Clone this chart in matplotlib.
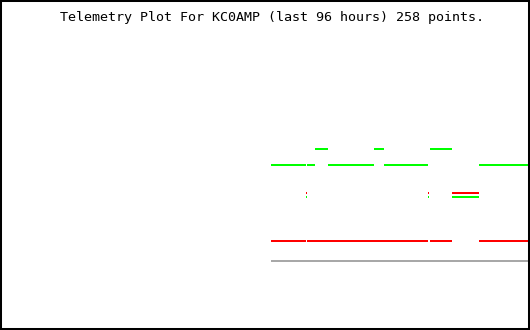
import matplotlib
matplotlib.use("Agg")
import matplotlib.pyplot as plt

# time in hours relative to now, values in arbitrary telemetry units
TITLE = "Telemetry Plot For KC0AMP (last 96 hours) 258 points."

green_t0 = [-46.8, -40.3, -36.5, -26.3, -9.1, -38.8, -28.1, -18.0, -40.5, -18.3, -14.0]
green_t1 = [-40.5, -38.8, -28.1, -18.3, 0.0, -36.5, -26.3, -14.0, -40.3, -18.1, -9.1]
green_v = [165, 165, 165, 165, 165, 181, 181, 181, 133, 133, 133]

red_t0 = [-46.8, -40.3, -18.0, -9.1, -40.5, -18.3, -14.0]
red_t1 = [-40.5, -18.3, -14.0, 0.0, -40.3, -18.1, -9.1]
red_v = [89, 89, 89, 89, 137, 137, 137]

gray_t0 = [-46.8]
gray_t1 = [0.0]
gray_v = [69]

fig = plt.figure(figsize=(5.3, 3.3), dpi=100)
ax = fig.add_axes([0, 0, 1, 1])
ax.set_xlim(-96, 0.2)
ax.set_ylim(0, 330)

lw = 1.44  # 2 px
ax.hlines(gray_v, gray_t0, gray_t1, colors="#a8a8a8", linewidth=lw, antialiased=False)
ax.hlines(red_v, red_t0, red_t1, colors="#ff0000", linewidth=lw, antialiased=False)
ax.hlines(green_v, green_t0, green_t1, colors="#00ff00", linewidth=lw, antialiased=False)

ax.set_xticks([])
ax.set_yticks([])
for s in ax.spines.values():
    s.set_color("black")
    s.set_linewidth(2.9)

fig.text(271.5 / 530, 1 - 17 / 330, TITLE, ha="center", va="center",
         family="DejaVu Sans Mono", fontsize=9.6, color="black")

fig.savefig("out.png", dpi=100, facecolor="white")
